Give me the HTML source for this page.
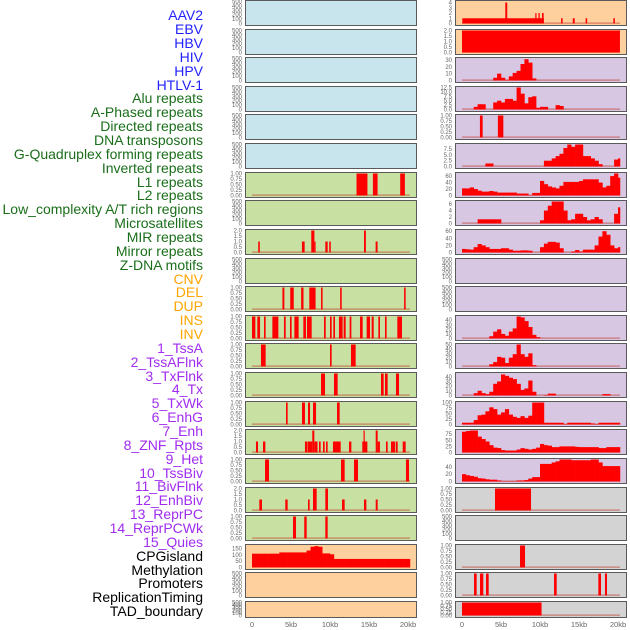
<!DOCTYPE html>
<html><head><meta charset="utf-8"><style>
html,body{margin:0;padding:0;background:#fff;width:630px;height:630px;overflow:hidden}
svg{display:block}
.lab{font-family:"Liberation Sans",sans-serif;font-size:14px;text-anchor:end}
.tk{font-family:"Liberation Sans",sans-serif;font-size:6px;fill:#666;text-anchor:end}
.xt{font-family:"Liberation Sans",sans-serif;font-size:7.5px;fill:#666;text-anchor:middle}
</style></head><body>
<svg id="chart" width="630" height="630">
<g id="labels">
<text class="lab" x="203" y="20" fill="#2222ff">AAV2</text>
<text class="lab" x="203" y="34" fill="#2222ff">EBV</text>
<text class="lab" x="203" y="48" fill="#2222ff">HBV</text>
<text class="lab" x="203" y="62" fill="#2222ff">HIV</text>
<text class="lab" x="203" y="76" fill="#2222ff">HPV</text>
<text class="lab" x="203" y="90" fill="#2222ff">HTLV-1</text>
<text class="lab" x="203" y="103" fill="#1a6e1a">Alu repeats</text>
<text class="lab" x="203" y="117" fill="#1a6e1a">A-Phased repeats</text>
<text class="lab" x="203" y="131" fill="#1a6e1a">Directed repeats</text>
<text class="lab" x="203" y="145" fill="#1a6e1a">DNA transposons</text>
<text class="lab" x="203" y="159" fill="#1a6e1a">G-Quadruplex forming repeats</text>
<text class="lab" x="203" y="173" fill="#1a6e1a">Inverted repeats</text>
<text class="lab" x="203" y="187" fill="#1a6e1a">L1 repeats</text>
<text class="lab" x="203" y="200" fill="#1a6e1a">L2 repeats</text>
<text class="lab" x="203" y="214" fill="#1a6e1a">Low_complexity A/T rich regions</text>
<text class="lab" x="203" y="228" fill="#1a6e1a">Microsatellites</text>
<text class="lab" x="203" y="242" fill="#1a6e1a">MIR repeats</text>
<text class="lab" x="203" y="256" fill="#1a6e1a">Mirror repeats</text>
<text class="lab" x="203" y="270" fill="#1a6e1a">Z-DNA motifs</text>
<text class="lab" x="203" y="284" fill="#ffa500">CNV</text>
<text class="lab" x="203" y="297" fill="#ffa500">DEL</text>
<text class="lab" x="203" y="311" fill="#ffa500">DUP</text>
<text class="lab" x="203" y="325" fill="#ffa500">INS</text>
<text class="lab" x="203" y="339" fill="#ffa500">INV</text>
<text class="lab" x="203" y="353" fill="#a02cf0">1_TssA</text>
<text class="lab" x="203" y="367" fill="#a02cf0">2_TssAFlnk</text>
<text class="lab" x="203" y="381" fill="#a02cf0">3_TxFlnk</text>
<text class="lab" x="203" y="394" fill="#a02cf0">4_Tx</text>
<text class="lab" x="203" y="408" fill="#a02cf0">5_TxWk</text>
<text class="lab" x="203" y="422" fill="#a02cf0">6_EnhG</text>
<text class="lab" x="203" y="436" fill="#a02cf0">7_Enh</text>
<text class="lab" x="203" y="450" fill="#a02cf0">8_ZNF_Rpts</text>
<text class="lab" x="203" y="464" fill="#a02cf0">9_Het</text>
<text class="lab" x="203" y="478" fill="#a02cf0">10_TssBiv</text>
<text class="lab" x="203" y="491" fill="#a02cf0">11_BivFlnk</text>
<text class="lab" x="203" y="505" fill="#a02cf0">12_EnhBiv</text>
<text class="lab" x="203" y="519" fill="#a02cf0">13_ReprPC</text>
<text class="lab" x="203" y="533" fill="#a02cf0">14_ReprPCWk</text>
<text class="lab" x="203" y="547" fill="#a02cf0">15_Quies</text>
<text class="lab" x="203" y="561" fill="#000">CPGisland</text>
<text class="lab" x="203" y="575" fill="#000">Methylation</text>
<text class="lab" x="203" y="588" fill="#000">Promoters</text>
<text class="lab" x="203" y="602" fill="#000">ReplicationTiming</text>
<text class="lab" x="203" y="616" fill="#000">TAD_boundary</text>
</g>
<g id="panels"></g>
<g id="xaxis"></g>
</svg>
<script>
// ---- tick label sets ----
const xTickKb = [0, 5, 10, 15, 20];
const xTickLabels = ["0", "5kb", "10kb", "15kb", "20kb"];
const tEmpty = [0, 100, 200, 300, 400, 500];
const tOne = [0, 0.25, 0.5, 0.75, 1];
const tTwo = [0, 0.5, 1, 1.5, 2];
// ---- interval (spike) series: [startKb, endKb, value] ----
const lL1 = [[13.4,14.8,1],[15.5,16.1,1],[19.0,19.6,1]];
const lMir = [[0.8,1.0,1],[6.4,6.75,1],[7.6,8.0,2],[8.0,8.15,1],[9.4,9.7,1],[9.9,10.1,1],[14.36,14.6,2],[15.85,16.1,1]];
const lDel = [[3.9,4.15,1],[4.9,5.35,1],[6.3,6.6,1],[7.35,8.15,1],[8.85,9.05,1],[11.3,11.5,1],[19.5,19.7,1]];
const lIns = [[0.0,0.43,1],[0.68,1.03,1],[1.54,1.75,1],[2.61,3.38,1],[4.1,4.32,1],[4.87,5.08,1],[5.43,5.98,1],[6.58,6.92,1],[7.05,7.65,1],[9.23,9.45,1],[10.0,10.21,1],[10.43,10.64,1],[11.15,11.62,1],[11.75,12.01,1],[12.52,12.74,1],[13.85,14.19,1],[14.7,15.13,1],[15.34,15.6,1],[16.2,16.41,1],[17.05,17.26,1],[18.63,19.23,1]];
const lTssA = [[1.15,1.75,1],[10.0,10.21,1],[12.69,13.29,1]];
const lTxFlnk = [[8.85,9.36,1],[10.51,10.98,1],[16.54,16.88,1],[17.05,17.39,1],[18.46,18.85,1]];
const lTxWk = [[4.36,4.57,1],[6.41,6.79,1],[7.18,7.44,1],[7.82,8.21,1],[10.9,11.24,1]];
const lEnh = [[0.51,0.77,1],[1.41,1.71,1],[6.79,7.05,1],[7.1,7.73,1],[7.73,7.99,2],[8.0,8.4,1],[8.59,8.8,1],[9.1,9.32,1],[9.49,9.7,1],[10.38,11.37,1],[12.44,12.74,1],[14.14,14.79,1],[14.3,14.4,2],[15.86,16.11,2],[16.11,16.4,1],[17.18,17.39,1],[17.82,18.33,1],[18.42,18.68,1],[19.32,19.7,1]];
const lHet = [[1.67,2.18,1],[11.41,11.88,1],[13.08,13.59,1],[19.74,20.13,1]];
const lBivFlnk = [[0.94,1.28,1],[4.27,4.57,1],[7.18,7.39,1],[7.82,8.29,2],[9.4,9.74,2],[11.54,11.88,1],[14.36,14.66,1],[15.86,16.11,1]];
const lReprPC = [[5.26,5.64,1],[6.7,7.01,1],[9.4,9.7,1]];
const rAav = [[0.04,10.5,1],[5.55,5.8,4],[9.4,9.55,2],[9.8,9.96,2],[10.26,10.47,2],[12.7,12.9,1],[14.2,14.45,1],[15.85,16.05,1],[19.4,19.6,1]];
const rEbv = [[0.0,20.25,2]];
const rHpv = [[2.3,2.65,1],[4.6,5.3,1]];
const rBivFlnk = [[4.23,8.85,1]];
const rCpg = [[7.44,8.08,1]];
const rProm = [[1.54,1.88,1],[2.31,2.73,1],[3.08,3.42,1],[11.8,12.14,1],[17.48,17.82,1],[18.33,18.59,1]];
const rTad = [[0.0,10.2,1]];
// ---- binned (0.5kb) histogram series ----
const lMeth = [110,110,110,110,110,110,110,120,120,120,120,120,120,120,135,165,170,165,112,112,105,68,68,68,68,68,68,68,68,68,68,68,68,68,68,68,68,68,68,68,68];
const rHiv = [0,0,0,0,0,0,0,0,4,10,4,1,6,11,14,24,31,26,3,0,0,0,0,0,0,0,0,0,0,0,0,0,0,0,0,0,0,0,0,0,0];
const rAlu = [0,0,0,1.5,3,3,0,0,4,5,4,6,6,5,12.5,9,3.5,7,7.5,1,1.5,1.5,0,0,2.5,2,0,0,0,0,0,0,0,0,0,0,0,0,0,0,0];
const rGq = [0,0,0,0,0,0,1.3,1.3,0,0,0,0,0,0,0,0,0,0,0,0,0,2.5,2.5,3.5,4.5,5.5,8,9.5,8.5,9.5,9.5,4.5,4.5,3.5,2.5,1,0,0,0,3,3.5];
const rL1 = [22,22,25,20,15,12,12,14,12,9,9,9,9,9,6,6,6,1,8,8,45,35,28,25,22,30,42,42,42,42,45,50,50,50,50,40,25,30,60,68,55];
const rLowc = [0,0,0,0,1.3,1.3,1.3,1.3,1.3,1.3,0,0,0,0,0,0,0,0,0,0,1,4,5.5,6.8,6.8,6.8,4,1,1.3,3,3,2,1,1.3,2,1.3,0,0,0,3,5];
const rMir = [10,9,8,15,24,20,15,10,10,10,12,12,8,5,5,6,6,5,0,0,15,25,30,30,28,12,0,0,3,7,3,8,8,8,20,45,60,50,20,12,15];
const rIns = [0,0,0,0,0,0,0,5,15,20,10,6,15,22,48,46,38,25,8,3,0,0,0,0,0,0,0,0,0,0,0,0,0,0,0,0,0,0,0,0,0];
const rInv = [0,0,0,0,0,0,0,5,10,22,20,8,20,28,50,28,22,30,3,0,0,0,0,0,0,0,0,0,0,0,0,0,0,0,0,0,0,0,0,0,0];
const rTssA = [0,0,0,5,10,5,3,8,25,30,45,42,38,35,25,12,15,32,8,0,0,1,4,4,0,0,0,0,0,0,0,0,0,0,0,0,3,3,0,0,0];
const rTssAFlnk = [8,8,8,20,42,45,60,78,70,45,55,70,45,35,30,38,30,40,100,100,100,8,8,8,8,8,2,8,8,8,8,8,8,5,2,8,8,8,8,8,8];
const rTxFlnk = [85,88,90,90,65,55,45,30,20,18,10,8,8,8,12,18,15,12,15,20,35,30,28,22,22,25,25,25,25,23,22,22,22,22,22,18,18,22,22,22,22];
const rTx = [20,17,15,13,9,8,6,5,5,3,1,1,1,1,3,3,4,8,12,12,48,48,48,52,55,60,60,60,58,58,58,58,58,60,60,52,42,42,42,42,42];

const NS = "http://www.w3.org/2000/svg";
const G = document.getElementById("panels");
const RW = 28.62;
function rowTop(i){ return Math.round(i*RW); }
function mk(tag, attrs, parent){ const e=document.createElementNS(NS,tag); for(const k in attrs) e.setAttribute(k,attrs[k]); parent.appendChild(e); return e; }
function fmt(v, dec){ return dec==null ? String(v) : v.toFixed(dec); }

// panel specs: col (0 left,1 right), row, bg, ticks, decimals, max, kind, data
const BLUE="#c8e4ec", GREEN="#c8e0a2", PEACH="#fed09e", LAV="#d7c7e2", GREY="#d3d3d3";
const specs = [];
for(let r=0;r<6;r++) specs.push({c:0,r:r,bg:BLUE,t:tEmpty});
specs.push({c:0,r:6,bg:GREEN,t:tOne,d:2,kind:"iv",data:lL1,name:"l1-repeats"});
specs.push({c:0,r:7,bg:GREEN,t:tEmpty});
specs.push({c:0,r:8,bg:GREEN,t:tTwo,d:1,kind:"iv",data:lMir,name:"mir-repeats"});
specs.push({c:0,r:9,bg:GREEN,t:tEmpty});
specs.push({c:0,r:10,bg:GREEN,t:tOne,d:2,kind:"iv",data:lDel,name:"del"});
specs.push({c:0,r:11,bg:GREEN,t:tOne,d:2,kind:"iv",data:lIns,name:"ins"});
specs.push({c:0,r:12,bg:GREEN,t:tOne,d:2,kind:"iv",data:lTssA,name:"tssa"});
specs.push({c:0,r:13,bg:GREEN,t:tOne,d:2,kind:"iv",data:lTxFlnk,name:"txflnk"});
specs.push({c:0,r:14,bg:GREEN,t:tOne,d:2,kind:"iv",data:lTxWk,name:"txwk"});
specs.push({c:0,r:15,bg:GREEN,t:tTwo,d:1,kind:"iv",data:lEnh,name:"enh"});
specs.push({c:0,r:16,bg:GREEN,t:tOne,d:2,kind:"iv",data:lHet,name:"het"});
specs.push({c:0,r:17,bg:GREEN,t:tTwo,d:1,kind:"iv",data:lBivFlnk,name:"bivflnk"});
specs.push({c:0,r:18,bg:GREEN,t:tOne,d:2,kind:"iv",data:lReprPC,name:"reprpc"});
specs.push({c:0,r:19,bg:PEACH,t:[0,50,100,150],max:175,kind:"bin",data:lMeth,name:"methylation",nobase:true});
specs.push({c:0,r:20,bg:PEACH,t:tEmpty});
specs.push({c:0,r:21,bg:PEACH,t:tEmpty});
specs.push({c:1,r:0,bg:PEACH,t:[0,1,2,3,4],max:4.2,kind:"iv",data:rAav,name:"aav2"});
specs.push({c:1,r:1,bg:PEACH,t:tTwo,d:1,kind:"iv",data:rEbv,name:"ebv"});
specs.push({c:1,r:2,bg:LAV,t:[0,10,20,30],max:32,kind:"bin",data:rHiv,name:"hiv"});
specs.push({c:1,r:3,bg:LAV,t:[0,2.5,5,7.5,10,12.5],d:1,kind:"bin",data:rAlu,name:"alu"});
specs.push({c:1,r:4,bg:LAV,t:tOne,d:2,kind:"iv",data:rHpv,name:"hpv"});
specs.push({c:1,r:5,bg:LAV,t:[0,2.5,5,7.5],d:1,max:9.5,kind:"bin",data:rGq,name:"g-quadruplex"});
specs.push({c:1,r:6,bg:LAV,t:[0,20,40,60],max:68,kind:"bin",data:rL1,name:"l1-right"});
specs.push({c:1,r:7,bg:LAV,t:[0,2,4,6],max:6.8,kind:"bin",data:rLowc,name:"low-complexity"});
specs.push({c:1,r:8,bg:LAV,t:[0,20,40,60],max:62,kind:"bin",data:rMir,name:"mir-right"});
specs.push({c:1,r:9,bg:LAV,t:tEmpty});
specs.push({c:1,r:10,bg:LAV,t:tEmpty});
specs.push({c:1,r:11,bg:LAV,t:[0,10,20,30,40],max:48,kind:"bin",data:rIns,name:"ins-right"});
specs.push({c:1,r:12,bg:LAV,t:[0,10,20,30,40,50],kind:"bin",data:rInv,name:"inv-right"});
specs.push({c:1,r:13,bg:LAV,t:[0,10,20,30,40],max:47,kind:"bin",data:rTssA,name:"tssa-right"});
specs.push({c:1,r:14,bg:LAV,t:[0,25,50,75,100],kind:"bin",data:rTssAFlnk,name:"tssaflnk-right"});
specs.push({c:1,r:15,bg:LAV,t:[0,25,50,75],max:90,kind:"bin",data:rTxFlnk,name:"txflnk-right"});
specs.push({c:1,r:16,bg:LAV,t:[0,20,40],max:60,kind:"bin",data:rTx,name:"tx-right"});
specs.push({c:1,r:17,bg:GREY,t:tOne,d:2,kind:"iv",data:rBivFlnk,name:"bivflnk-right"});
specs.push({c:1,r:18,bg:GREY,t:tEmpty});
specs.push({c:1,r:19,bg:GREY,t:tOne,d:2,kind:"iv",data:rCpg,name:"cpg-right"});
specs.push({c:1,r:20,bg:GREY,t:tOne,d:2,kind:"iv",data:rProm,name:"promoters-right"});
specs.push({c:1,r:21,bg:GREY,t:tOne,d:2,kind:"iv",data:rTad,name:"tad-right"});

specs.forEach(function(s){
  const px0 = s.c===0 ? 245 : 455;
  const pw = 171;
  const top = rowTop(s.r);
  const h = s.r===21 ? 16 : 25;
  const xs = function(kb){ return (s.c===0?252:462) + kb*7.8; };
  const bot = top + h - 1.5, yt = top + 1.5;
  const tmax = s.t[s.t.length-1];
  const vmax = s.max!=null ? s.max : tmax;
  const ys = function(v){ return bot - v/vmax*(bot-yt); };
  const g = mk("g",{},G);
  
  
  const bgR = mk("rect",{x:px0+0.5,y:top+0.5,width:pw,height:h,fill:s.bg,stroke:"#5a5a5a","stroke-width":1},g);
  
  
  // ticks
  s.t.forEach(function(tv){
    const tx = mk("text",{x:px0-3,y:ys(tv)+2,class:"tk"},g);
    tx.textContent = fmt(tv, s.d);
    
    
  });
  if(!s.kind) return;
  if(!s.nobase){
    const bl = mk("rect",{x:xs(0),y:bot-1,width:xs(20.25)-xs(0),height:1.2,fill:"#c0392b",opacity:0.6},g);
    
    
  }
  if(s.kind==="iv"){
    s.data.forEach(function(d){
      const x0=xs(d[0]), x1=xs(d[1]);
      const b = mk("rect",{x:x0,y:ys(d[2]),width:Math.max(1.2,x1-x0),height:bot-ys(d[2]),fill:"#ff0000"},g);
      
      
    });
  } else {
    s.data.forEach(function(v,i){
      if(v<=0) return;
      const x0=xs(i*0.5), x1=xs(Math.min(20.25,(i+1)*0.5));
      const b = mk("rect",{x:x0,y:ys(v),width:x1-x0+0.3,height:bot-ys(v),fill:"#ff0000"},g);
      
      
    });
  }
});

// x axes
const XA = document.getElementById("xaxis");
[252,462].forEach(function(base){
  xTickKb.forEach(function(kb,i){
    const t = mk("text",{x:base+kb*7.8,y:627,class:"xt"},XA);
    t.textContent = xTickLabels[i];
    
    
  });
});
</script>
</body></html>
